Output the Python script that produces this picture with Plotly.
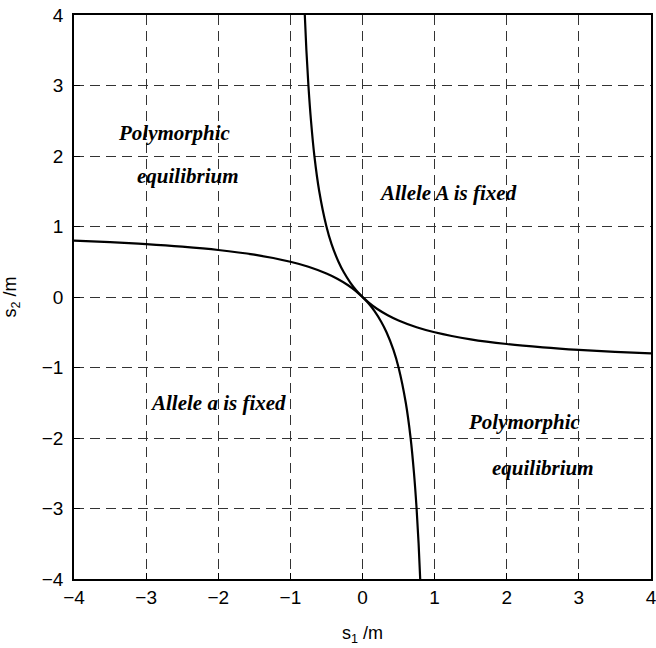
import plotly.graph_objects as go

# Boundary curve 1 (s2/m as function of s1/m)
curve1_x = [-4, -3.5, -3, -2.5, -2, -1.5, -1, -0.75, -0.5, -0.35, -0.2, -0.1, 0,
            0.1, 0.2, 0.35, 0.5, 0.75, 1, 1.5, 2, 2.5, 3, 3.5, 4]
curve1_y = [0.8, 0.778, 0.75, 0.714, 0.667, 0.6, 0.5, 0.429, 0.333, 0.259, 0.167, 0.091, 0,
            -0.091, -0.167, -0.259, -0.333, -0.429, -0.5, -0.6, -0.667, -0.714, -0.75, -0.778, -0.8]
# Boundary curve 2
curve2_x = [-0.8, -0.778, -0.75, -0.714, -0.667, -0.6, -0.5, -0.429, -0.333, -0.259, -0.167, -0.091, 0,
            0.091, 0.167, 0.259, 0.333, 0.429, 0.5, 0.6, 0.667, 0.714, 0.75, 0.778, 0.8]
curve2_y = [4, 3.5, 3, 2.5, 2, 1.5, 1, 0.75, 0.5, 0.35, 0.2, 0.1, 0,
            -0.1, -0.2, -0.35, -0.5, -0.75, -1, -1.5, -2, -2.5, -3, -3.5, -4]

tick_vals = [-4, -3, -2, -1, 0, 1, 2, 3, 4]
tick_text = ["\u22124", "\u22123", "\u22122", "\u22121", "0", "1", "2", "3", "4"]

labels = ["Polymorphic", "equilibrium", "Allele A is fixed", "Allele a is fixed",
          "Polymorphic", "equilibrium"]
label_x = [-2.6, -2.42, 1.18, -2.0, 2.24, 2.5]
label_y = [2.33, 1.72, 1.48, -1.5, -1.77, -2.43]

fig = go.Figure()
for cx, cy in [(curve1_x, curve1_y), (curve2_x, curve2_y)]:
    fig.add_trace(go.Scatter(x=cx, y=cy, mode="lines", line=dict(color="black", width=2.2, shape="spline"),
                             showlegend=False, hoverinfo="skip"))

for t, x, y in zip(labels, label_x, label_y):
    fig.add_annotation(x=x, y=y, text="<b><i>" + t + "</i></b>", showarrow=False,
                       font=dict(family="Liberation Serif", size=21, color="black"))

axis_common = dict(
    range=[-4, 4], tickvals=tick_vals, ticktext=tick_text, automargin=False,
    ticklabeloverflow="allow",
    showgrid=True, gridcolor="#333333", gridwidth=1, griddash="10px,6px",
    zeroline=False, showline=True, linecolor="black", linewidth=1.5, mirror=True,
    ticks="inside", ticklen=6, tickcolor="black",
    tickfont=dict(family="Liberation Sans", size=19, color="black"),
)

fig.update_xaxes(**axis_common, title=dict(text="s<sub>1</sub> /m", standoff=20,
                                             font=dict(family="Liberation Sans", size=18, color="black")))
fig.update_yaxes(**axis_common, ticklabelstandoff=5,
                 title=dict(text="s<sub>2</sub> /m", standoff=20,
                            font=dict(family="Liberation Sans", size=18, color="black")))

fig.update_layout(
    width=656, height=648,
    margin=dict(l=74, r=5, t=15, b=69),
    plot_bgcolor="white", paper_bgcolor="white",
)

fig.write_html("out.html", config={"displayModeBar": False},
               post_script="document.body.style.margin='0px';")
